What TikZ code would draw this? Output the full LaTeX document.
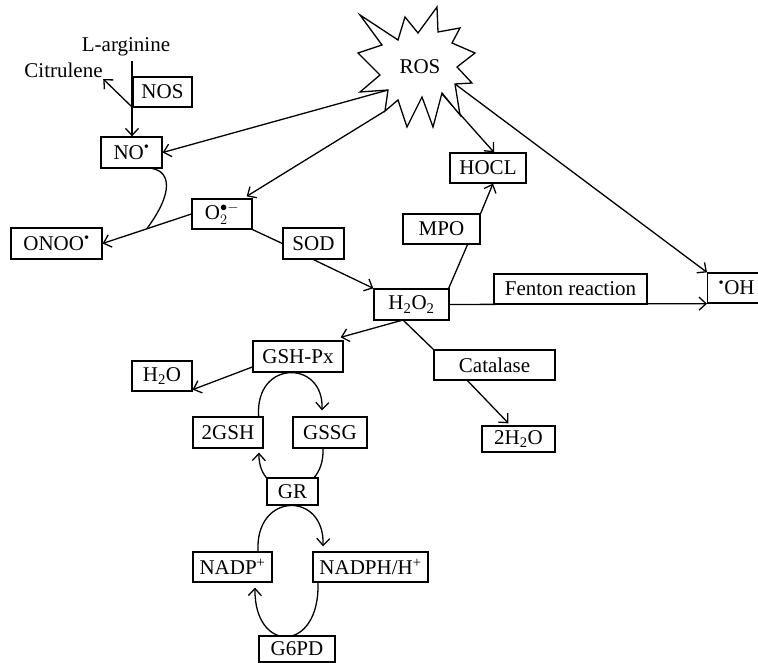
\documentclass[tikz,border=0pt]{standalone}
\usepackage{fontspec}
\setmainfont{Liberation Serif}
\usetikzlibrary{arrows.meta,backgrounds}
\begin{document}
\begin{tikzpicture}[x=1pt,y=-1pt,line width=1.3pt,
  box/.style={draw,fill=white,inner sep=0pt,font=\fontsize{21}{24}\selectfont},
  lbl/.style={inner sep=0pt,font=\fontsize{21}{24}\selectfont},
  conn/.style={line width=1.3pt},
  arr/.style={conn,-{Straight Barb[length=7pt,width=13pt]}}]
\useasboundingbox (0,0) rectangle (758,663);
\clip (0,0) rectangle (758,663);
% star
\draw[fill=white] (360,15) -- (398,40) -- (405,17) -- (418,33) -- (437,7) -- (438,32) -- (460,28) -- (452,43) -- (475,53) -- (457,67) -- (472,83) -- (455,84) -- (460,115) -- (442,93) -- (433,127) -- (422,97) -- (407,127) -- (398,100) -- (385,111) -- (388,90) -- (360,92) -- (380,75) -- (358,53) -- (382,45) -- cycle;
\node[lbl] (ROS) at (420,67) {ROS};
\coordinate (r1) at (388,90);
\coordinate (r2) at (385,111);
\coordinate (r3) at (442,94);
\coordinate (r4) at (455,84);
% labels
\node[lbl] (LA) at (126,47) {L-arginine};
\node[lbl] (Cit) at (63.5,70) {Citrulene};
% boxes
\node[box,minimum width=59pt,minimum height=30pt] (NOS) at (162.5,92) {NOS};
\node[box,minimum width=61pt,minimum height=31pt] (NO) at (131.5,152.5) {NO\textsuperscript{•}};
\node[box,minimum width=91pt,minimum height=31pt] (ONOO) at (56.5,243.5) {ONOO\textsuperscript{•}};
\node[box,minimum width=60pt,minimum height=30pt] (O2) at (222,214) {$\mathrm{O}_2^{\bullet-}$};
\node[box,minimum width=61pt,minimum height=31pt] (SOD) at (313.5,243.5) {SOD};
\node[box,minimum width=75pt,minimum height=31pt] (H2O2) at (411.5,304.5) {H\textsubscript{2}O\textsubscript{2}};
\node[box,minimum width=153pt,minimum height=30pt] (Fen) at (570.5,289) {Fenton reaction};
\node[box,minimum width=58pt,minimum height=30pt,anchor=west] (OH) at (707,288) {\textsuperscript{•}OH};
\node[box,minimum width=76pt,minimum height=30pt] (HOCL) at (488,168) {HOCL};
\node[box,minimum width=77pt,minimum height=30pt] (MPO) at (441.5,229) {MPO};
\node[box,minimum width=90pt,minimum height=31pt] (GSH) at (298,356.5) {GSH-Px};
\node[box,minimum width=60pt,minimum height=30pt] (W) at (162,376) {H\textsubscript{2}O};
\node[box,minimum width=70pt,minimum height=31pt] (G2) at (228,432.5) {2GSH};
\node[box,minimum width=74pt,minimum height=31pt] (GSSG) at (330,432.5) {GSSG};
\node[box,minimum width=51pt,minimum height=27pt] (GR) at (292.5,491.5) {GR};
\node[box,minimum width=79pt,minimum height=30pt] (NADP) at (232.5,567) {NADP\textsuperscript{+}};
\node[box,minimum width=115pt,minimum height=30pt] (NADPH) at (370.5,567) {NADPH/H\textsuperscript{+}};
\node[box,minimum width=76pt,minimum height=26pt] (G6PD) at (297,649) {G6PD};
\node[box,minimum width=121pt,minimum height=30pt] (Cat) at (494.5,365) {Catalase};
\node[box,minimum width=73pt,minimum height=26pt] (W2) at (518.5,439) {2H\textsubscript{2}O};
\coordinate (la) at (132,61);
\coordinate (br) at (132,107);
\coordinate (hb) at (403,320);
\coordinate (j) at (147,228.5);
\begin{scope}[on background layer,line width=1.3pt]
\draw[arr] (r1) -- (NO.east);
\draw[arr] (r2) -- ([xshift=-6pt,yshift=2pt]O2.north east);
\draw[arr] (r3) -- ([xshift=6pt]HOCL.north);
\draw[arr] (r4) -- (OH.north west);
\draw[arr] (la) -- (la |- NO.north);
\draw[arr] (br) -- ([yshift=-1pt]Cit.south east);
\draw[conn] ([xshift=-10pt]NO.south east) .. controls (170,172) and (174,192) .. (j);
\draw[arr] (O2.west) -- (ONOO.east);
\draw[conn] (O2.south east) -- (SOD.west);
\draw[arr] (SOD.south) -- (H2O2.north west);
\draw[conn] ([xshift=-1pt]H2O2.north east) -- ([xshift=26pt]MPO.south);
\draw[arr] (MPO.north east) -- ([xshift=5pt]HOCL.south);
\draw[arr] (H2O2.east) -- (OH.south west);
\draw[arr] (hb) -- ([xshift=-3pt,yshift=3pt]GSH.north east);
\draw[conn] (hb) -- (Cat.north west);
\draw[arr] ([xshift=-27pt]Cat.south) -- ([xshift=-10pt,yshift=2pt]W2.north);
\draw[arr] ([yshift=-10.5pt]GSH.west) -- ([yshift=2pt]W.south east);
\draw[arr] ([xshift=-5pt]G2.north east) .. controls +(-4,-57) and +(2,-51) .. ([xshift=-8pt,yshift=6pt]GSSG.north);
\draw[arr] ([xshift=-7pt]GSSG.south) .. controls +(2,52) and +(-1,48) .. ([xshift=31pt,yshift=-4pt]G2.south);
\draw[arr] ([xshift=25.5pt]NADP.north) .. controls +(-3,-60) and +(2,-55) .. ([xshift=-47.5pt,yshift=5pt]NADPH.north);
\draw[arr] ([xshift=-52.5pt]NADPH.south) .. controls +(2,71) and +(-1,66) .. ([xshift=22.5pt,yshift=-5pt]NADP.south);
\end{scope}
\end{tikzpicture}
\end{document}
